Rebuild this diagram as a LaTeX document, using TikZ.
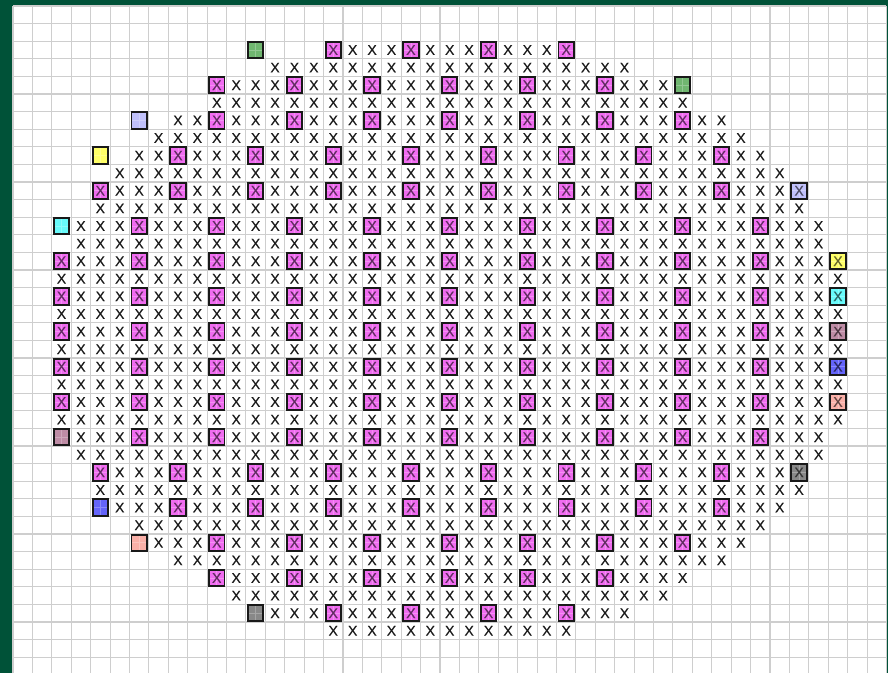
\documentclass[tikz,border=0pt]{standalone}
\usepackage{fontspec}
\newfontfamily\diefont[FakeBold=0.4]{Liberation Sans}
\definecolor{frame}{RGB}{0,82,56}
\definecolor{gridline}{RGB}{206,206,206}
\definecolor{pinkdie}{RGB}{240,108,240}
\definecolor{greendie}{RGB}{112,182,112}
\definecolor{lavdie}{RGB}{192,192,250}
\definecolor{yellowdie}{RGB}{255,255,104}
\definecolor{cyandie}{RGB}{104,250,250}
\definecolor{mauvedie}{RGB}{190,140,165}
\definecolor{bluedie}{RGB}{100,100,250}
\definecolor{salmondie}{RGB}{250,176,168}
\definecolor{graydie}{RGB}{136,136,136}

\tikzset{
  die/.style={font=\diefont\fontsize{10.5}{10.5}\selectfont, text=black!90, inner sep=0pt},
  chip/.style={die, draw=black!90, line width=1.45pt, fill=#1, text=#1!40!black,
    minimum width=11.5pt, minimum height=12.3pt,
    path picture={\draw[white, opacity=0.25, line width=0.5pt]
      (path picture bounding box.north) -- (path picture bounding box.south)
      (path picture bounding box.west) -- (path picture bounding box.east);}},
}

\begin{document}
\begin{tikzpicture}[x=14.5575pt, y=-13.2pt]
    \useasboundingbox (-0.66976,-0.34091) rectangle (45.0799,37.8977);
    \fill[frame] (-0.66976,-0.34091) rectangle (45.0799,37.8977);
    \fill[white] (0,0) rectangle (45,37.8977);
    \foreach \i in {0,...,45} \draw[gridline, line width=0.8pt] (\i,0) -- (\i,37.8977);
    \foreach \j in {0,...,37} \draw[gridline, line width=0.8pt] (0,\j) -- (45,\j);

    \foreach \r/\a/\b in {2/16/28, 3/13/31, 4/10/33, 5/10/34, 6/8/36, 7/7/37, 8/6/38,
        9/5/39, 10/4/39, 11/4/40, 12/3/41, 13/3/41, 14/2/41, 15/2/42, 16/2/41, 17/2/42,
        18/2/41, 19/2/42, 20/2/41, 21/2/42, 22/2/41, 23/2/42, 24/3/41, 25/3/41, 26/4/39,
        27/4/40, 28/5/39, 29/6/38, 30/7/37, 31/8/36, 32/10/34, 33/11/33, 34/13/31, 35/16/28}
      \foreach \c in {\a,...,\b}
        \node[die] (x-\c-\r) at (\c+0.5,\r+0.5) {X};

    \foreach \r/\a/\b in {2/16/28, 4/10/30, 6/10/34, 8/8/36, 10/4/36, 12/6/38, 14/2/38,
        16/2/38, 18/2/38, 20/2/38, 22/2/38, 24/6/38, 26/4/36, 28/8/36, 30/10/34,
        32/10/30, 34/16/28}{
      \pgfmathtruncatemacro{\n}{\a+4}
      \foreach \c in {\a,\n,...,\b}
        \node[chip=pinkdie] (p-\c-\r) at (\c+0.5,\r+0.5) {X};
    }

    \foreach \c/\r/\col/\t in {12/2/greendie/0, 34/4/greendie/0, 6/6/lavdie/0,
        40/10/lavdie/1, 4/8/yellowdie/0, 42/14/yellowdie/1, 2/12/cyandie/0,
        42/16/cyandie/1, 2/24/mauvedie/0, 42/18/mauvedie/1, 4/28/bluedie/0,
        42/20/bluedie/1, 6/30/salmondie/0, 42/22/salmondie/1, 12/34/graydie/0,
        40/26/graydie/1}
      \node[chip=\col] (e-\c-\r) at (\c+0.5,\r+0.5) {\ifnum\t=1 X\fi};
\end{tikzpicture}
\end{document}
